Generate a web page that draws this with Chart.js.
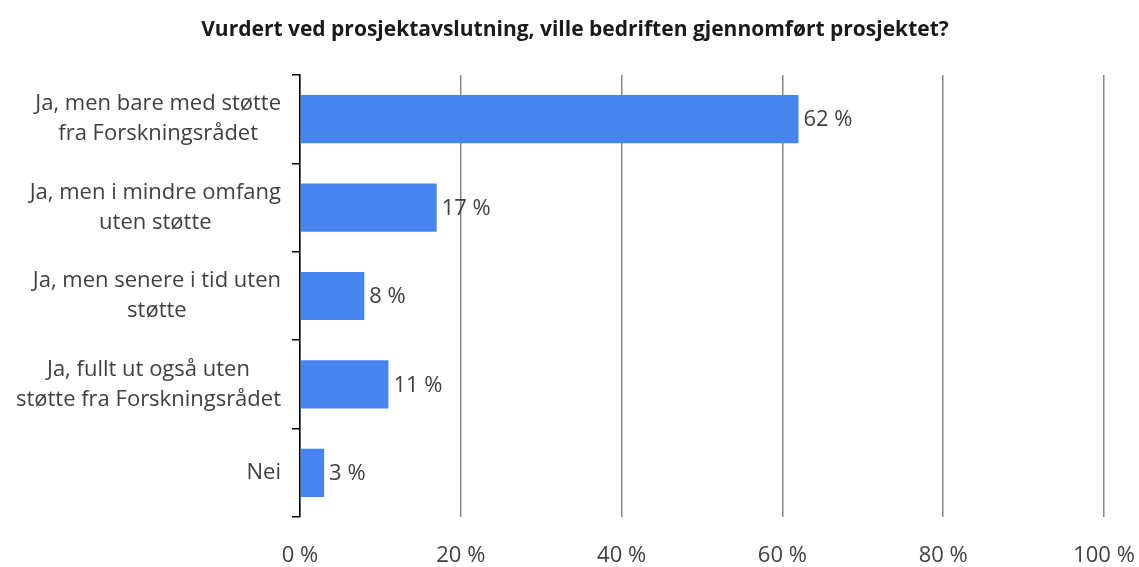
<!DOCTYPE html>
<html>
<head>
<meta charset="utf-8">
<script src="https://cdn.jsdelivr.net/npm/chart.js@4/dist/chart.umd.min.js"></script>
<style>
  html, body { margin: 0; padding: 0; background: #fff; }
  #wrap { width: 1139px; height: 567px; position: relative; }
</style>
</head>
<body>
<div id="wrap"><canvas id="chart"></canvas></div>
<script>
/* ── Data ── */
const chartTitle = "Vurdert ved prosjektavslutning, ville bedriften gjennomført prosjektet?";
const categories = [
  ["Ja, men bare med støtte", "fra Forskningsrådet"],
  ["Ja, men i mindre omfang", "uten støtte"],
  ["Ja, men senere i tid uten", "støtte"],
  ["Ja, fullt ut også uten", "støtte fra Forskningsrådet"],
  ["Nei"]
];
const shares = [62, 17, 8, 11, 3];
const tickValues = [0, 20, 40, 60, 80, 100];

const FONT = "'Open Sans', 'DejaVu Sans', sans-serif";
const TEXT = "#404040";

/* ── Title, value labels and category labels (right-aligned blocks, centred lines) ── */
const textLayer = {
  id: "textLayer",
  afterDatasetsDraw(chart) {
    const ctx = chart.ctx;
    const meta = chart.getDatasetMeta(0);
    ctx.save();

    // title
    ctx.font = "bold 21px " + FONT;
    ctx.fillStyle = "#1a1a1a";
    ctx.textAlign = "center";
    ctx.textBaseline = "middle";
    ctx.fillText(chartTitle, 575, 30);

    // values
    ctx.font = "22px " + FONT;
    ctx.fillStyle = TEXT;
    ctx.textAlign = "left";
    meta.data.forEach((bar, i) => {
      ctx.fillText(shares[i] + " %", bar.x + 5, bar.y + 1);
    });

    // categories
    const y = chart.scales.y;
    const rightEdge = y.right - 19;
    const lh = 30;
    ctx.font = "22px " + FONT;
    ctx.textAlign = "center";
    categories.forEach((lines, i) => {
      const cy = y.getPixelForTick(i);
      const w = Math.max(...lines.map(l => ctx.measureText(l).width));
      const cx = rightEdge - w / 2;
      const y0 = cy - (lines.length - 1) * lh / 2;
      lines.forEach((l, k) => ctx.fillText(l, cx, y0 + k * lh));
    });
    ctx.restore();
  }
};

new Chart(document.getElementById("chart"), {
  type: "bar",
  data: {
    labels: categories.map(l => l.join(" ")),
    datasets: [{
      data: shares,
      backgroundColor: "#4684EE",
      barPercentage: 0.545,
      categoryPercentage: 1
    }]
  },
  options: {
    indexAxis: "y",
    responsive: true,
    maintainAspectRatio: false,
    animation: false,
    layout: { padding: { top: 75, right: 35, left: 0, bottom: 0 } },
    plugins: {
      legend: { display: false },
      tooltip: { enabled: false },
      title: { display: false }
    },
    scales: {
      x: {
        min: 0,
        max: 100,
        afterBuildTicks(axis) { axis.ticks = tickValues.map(v => ({ value: v })); },
        afterFit(axis) { axis.height = 50; axis.paddingLeft = 0; axis.paddingRight = 0; },
        border: { display: false },
        grid: { color: "#868686", lineWidth: 1.5, drawTicks: false },
        ticks: {
          color: TEXT,
          padding: 26,
          maxRotation: 0,
          font: { family: FONT, size: 22 },
          callback: v => v + " %"
        }
      },
      y: {
        afterFit(axis) { axis.width = 300; },
        border: { display: true, color: "#000", width: 1.5 },
        grid: {
          offset: true,
          drawOnChartArea: false,
          drawTicks: true,
          tickLength: 8,
          color: "#000",
          lineWidth: 1.5
        },
        ticks: { display: false }
      }
    }
  },
  plugins: [textLayer]
});
</script>
</body>
</html>
